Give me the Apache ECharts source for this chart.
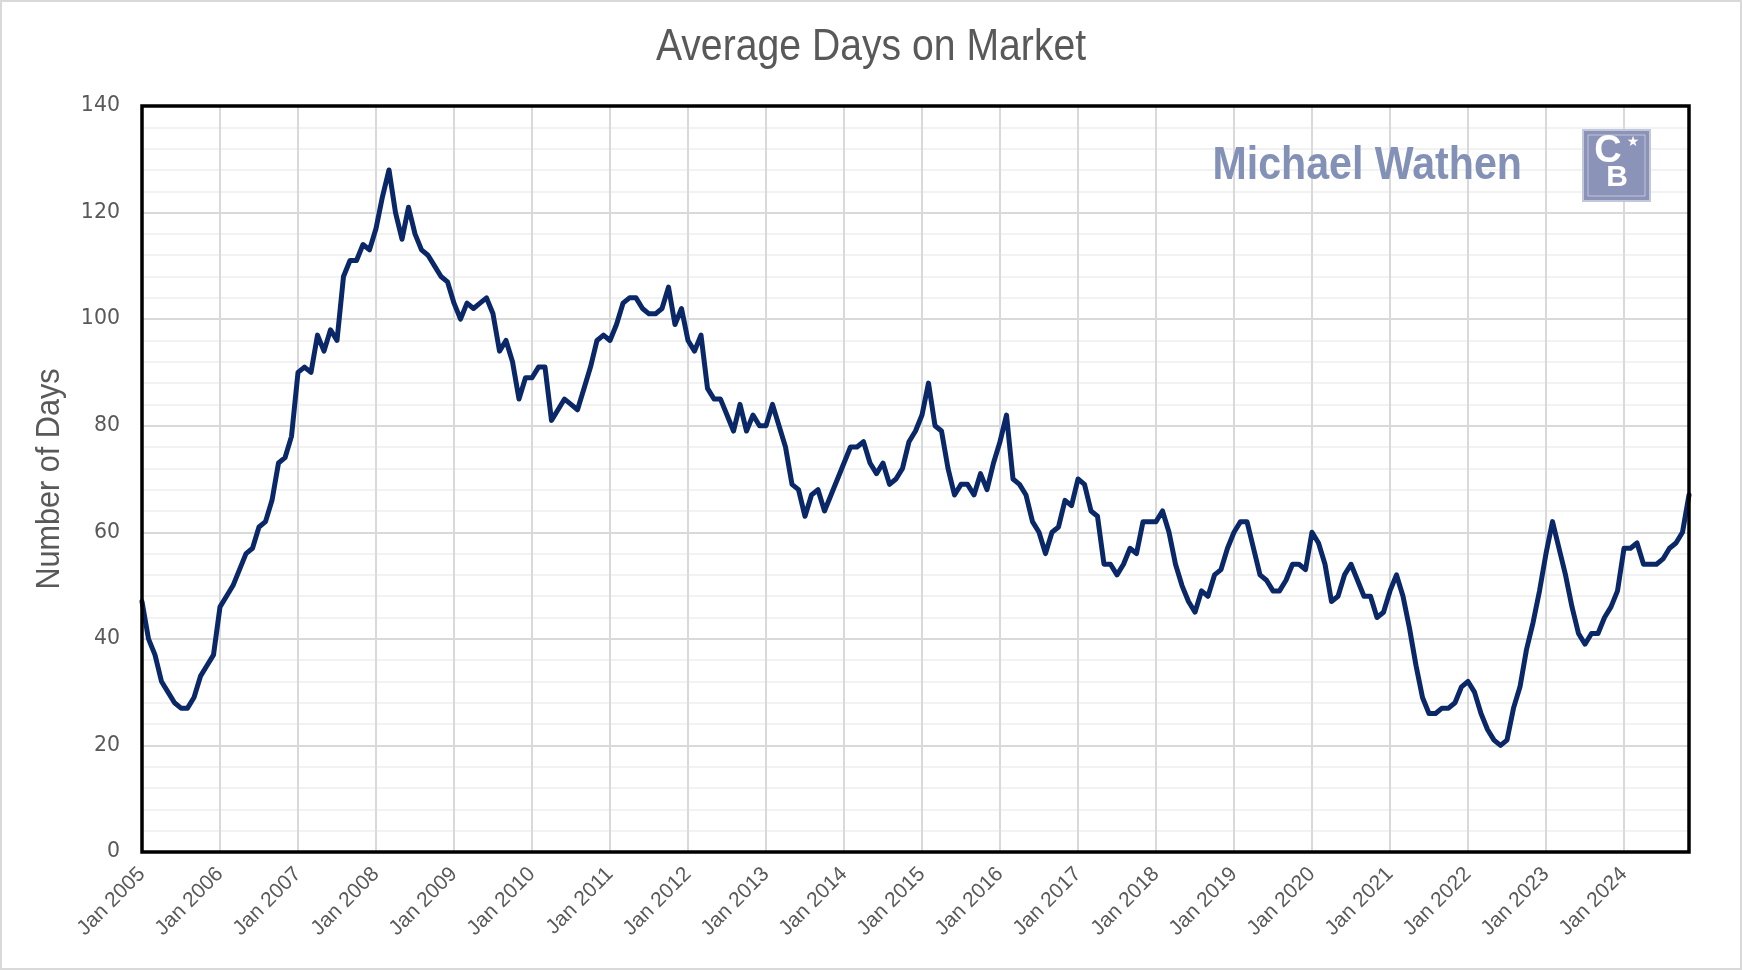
<!DOCTYPE html>
<html>
<head>
<meta charset="utf-8">
<script src="https://cdn.jsdelivr.net/npm/echarts@6/dist/echarts.min.js"></script>
<style>
html,body{margin:0;padding:0;background:#fff;}
#chart{width:1742px;height:970px;}
</style>
</head>
<body>
<div id="chart"></div>
<script>
// ---- data ----
const years = [2005,2006,2007,2008,2009,2010,2011,2012,2013,2014,2015,2016,2017,2018,2019,2020,2021,2022,2023,2024];
const monthNames = ['Jan','Feb','Mar','Apr','May','Jun','Jul','Aug','Sep','Oct','Nov','Dec'];
const d2005 = [47,40,37,32,30,28,27,27,29,33,35,37];
const d2006 = [46,48,50,53,56,57,61,62,66,73,74,78];
const d2007 = [90,91,90,97,94,98,96,108,111,111,114,113];
const d2008 = [117,123,128,120,115,121,116,113,112,110,108,107];
const d2009 = [103,100,103,102,103,104,101,94,96,92,85,89];
const d2010 = [89,91,91,81,83,85,84,83,87,91,96,97];
const d2011 = [96,99,103,104,104,102,101,101,102,106,99,102];
const d2012 = [96,94,97,87,85,85,82,79,84,79,82,80];
const d2013 = [80,84,80,76,69,68,63,67,68,64,67,70];
const d2014 = [73,76,76,77,73,71,73,69,70,72,77,79];
const d2015 = [82,88,80,79,72,67,69,69,67,71,68,73];
const d2016 = [77,82,70,69,67,62,60,56,60,61,66,65];
const d2017 = [70,69,64,63,54,54,52,54,57,56,62,62];
const d2018 = [62,64,60,54,50,47,45,49,48,52,53,57];
const d2019 = [60,62,62,57,52,51,49,49,51,54,54,53];
const d2020 = [60,58,54,47,48,52,54,51,48,48,44,45];
const d2021 = [49,52,48,42,35,29,26,26,27,27,28,31];
const d2022 = [32,30,26,23,21,20,21,27,31,38,43,49];
const d2023 = [56,62,57,52,46,41,39,41,41,44,46,49];
const d2024 = [57,57,58,54,54,54,55,57,58,60,67];
const yTicks = {min:0, max:140, interval:20};
const titleText = 'Average Days on Market';
const yAxisTitle = 'Number of Days';
const watermark = 'Michael Wathen';

const days = [].concat(d2005,d2006,d2007,d2008,d2009,d2010,d2011,d2012,d2013,d2014,
  d2015,d2016,d2017,d2018,d2019,d2020,d2021,d2022,d2023,d2024);
const categories = [];
years.forEach(y => monthNames.forEach(m => categories.push(m + ' ' + y)));
const cats = categories.slice(0, days.length);

const isJan = (i) => i % 12 === 0;
const G = {left:142, top:106, width:1547, height:746};

const chart = echarts.init(document.getElementById('chart'), null, {renderer:'canvas'});
chart.setOption({
  backgroundColor:'#ffffff',
  animation:false,
  grid:{left:G.left, top:G.top, width:G.width, height:G.height, show:false, containLabel:false},
  xAxis:{
    type:'category',
    data:cats,
    boundaryGap:false,
    axisLine:{show:false},
    axisTick:{show:false},
    axisLabel:{interval:(i)=>isJan(i), rotate:45, color:'#595959', fontSize:21, fontFamily:'"Liberation Sans", Arial, sans-serif', margin:19},
    splitLine:{show:true, interval:(i)=>isJan(i), lineStyle:{color:'#d9d9d9', width:2}}
  },
  yAxis:{
    type:'value',
    min:yTicks.min, max:yTicks.max, interval:yTicks.interval,
    axisLine:{show:false},
    axisTick:{show:false},
    axisLabel:{color:'#595959', fontSize:20.5, fontFamily:'"DejaVu Sans", sans-serif', margin:22},
    splitLine:{show:true, lineStyle:{color:'#d9d9d9', width:2}},
    minorTick:{show:false, splitNumber:5},
    minorSplitLine:{show:true, lineStyle:{color:'#eeeeee', width:1.5}}
  },
  series:[{
    type:'line',
    data:days,
    showSymbol:false,
    symbol:'none',
    lineStyle:{color:'#0a2868', width:5, join:'round', cap:'round'},
    z:5
  }],
  graphic:[
    {type:'rect', shape:{x:1, y:1, width:1740, height:968}, style:{fill:'none', stroke:'#d9d9d9', lineWidth:2}, silent:true, z:100},
    {type:'rect', shape:{x:G.left, y:G.top, width:G.width, height:G.height}, style:{fill:'none', stroke:'#000000', lineWidth:3.5}, silent:true, z:90},
    {type:'text', z:50, x:871, y:48, scaleX:0.89,
      style:{text:titleText, x:0, y:0, align:'center', verticalAlign:'middle',
      font:'44px "Liberation Sans", sans-serif', fill:'#595959'}},
    {type:'text', z:50, x:50, y:479, rotation:Math.PI/2, scaleX:0.9,
      style:{text:yAxisTitle, x:0, y:0, align:'center', verticalAlign:'middle',
      font:'34px "Liberation Sans", sans-serif', fill:'#595959'}},
    {type:'text', z:50, x:1522, y:166, scaleX:0.895,
      style:{text:watermark, x:0, y:0, align:'right', verticalAlign:'middle',
      font:'bold 46px "Liberation Sans", sans-serif', fill:'#8391b7'}},
    {type:'rect', z:50, shape:{x:1583, y:130, width:67, height:71}, style:{fill:'#8c93b9', stroke:'#c3c7dc', lineWidth:2}},
    {type:'rect', z:51, shape:{x:1588, y:135, width:57, height:61}, style:{fill:'none', stroke:'rgba(255,255,255,0.45)', lineWidth:1}},
    {type:'text', z:52, style:{text:'C', x:1608, y:152, align:'center', verticalAlign:'middle', font:'bold 38px "Liberation Sans", sans-serif', fill:'#ffffff'}},
    {type:'text', z:52, style:{text:'B', x:1617, y:178, align:'center', verticalAlign:'middle', font:'bold 30px "Liberation Sans", sans-serif', fill:'#ffffff'}},
    {type:'text', z:52, style:{text:'★', x:1633, y:142, align:'center', verticalAlign:'middle', font:'14px "DejaVu Sans", sans-serif', fill:'#ffffff'}}
  ]
});
</script>
</body>
</html>
